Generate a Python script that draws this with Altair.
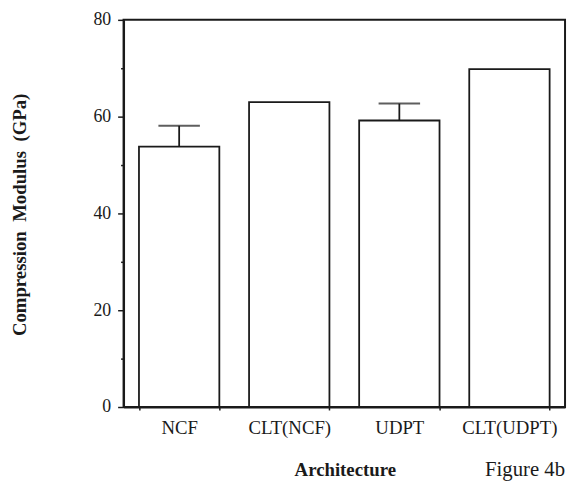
import altair as alt
import pandas as pd

categories = ["NCF", "CLT(NCF)", "UDPT", "CLT(UDPT)"]
modulus = [53.8, 63.0, 59.2, 69.8]
error_up = [4.3, 0.0, 3.5, 0.0]

df = pd.DataFrame({"arch": categories, "mod": modulus, "err": error_up})
df["top"] = df["mod"] + df["err"]
err_df = df[df["err"] > 0]

FONT = "Liberation Serif"
INK = "#1a1a1a"

x_enc = alt.X(
    "arch:N",
    sort=categories,
    scale=alt.Scale(paddingInner=0.27, paddingOuter=0.14),
    axis=alt.Axis(
        title="Architecture",
        labelAngle=0,
        labelFont=FONT,
        labelFontSize=19,
        labelColor=INK,
        labelPadding=9,
        tickBand="extent",
        tickSize=3,
        tickColor=INK,
        tickWidth=1.5,
        domainColor=INK,
        domainWidth=2,
        titleFont=FONT,
        titleFontSize=19,
        titleFontWeight="bold",
        titleColor=INK,
        titleX=224,
        titleY=63,
        titleBaseline="middle",
        titleAlign="center",
    ),
)

y_scale = alt.Scale(domain=[0, 80], nice=False)

bars = alt.Chart(df).mark_bar(
    fill="white", stroke=INK, strokeWidth=1.8
).encode(
    x=x_enc,
    y=alt.Y(
        "mod:Q",
        scale=y_scale,
        axis=alt.Axis(
            title="Compression\u00a0\u00a0Modulus\u00a0\u00a0(GPa)",
            values=[0, 10, 20, 30, 40, 50, 60, 70, 80],
            labelExpr="datum.value % 20 === 0 ? datum.label : ''",
            tickSize={"condition": {"test": "datum.value % 20 === 0", "value": 6}, "value": 3},
            tickWidth=1.5,
            tickColor=INK,
            grid=False,
            labelFont=FONT,
            labelFontSize=18,
            labelColor=INK,
            labelPadding=7,
            domainColor=INK,
            domainWidth=2,
            titleFont=FONT,
            titleFontSize=19,
            titleFontWeight="bold",
            titleColor=INK,
            titleAngle=270,
            titleX=-105,
            titleY=197,
            titleAlign="center",
            titleBaseline="middle",
        ),
    ),
)

rules = alt.Chart(err_df).mark_rule(color=INK, strokeWidth=1.8).encode(
    x=alt.X("arch:N", sort=categories),
    y=alt.Y("mod:Q", scale=y_scale),
    y2="top:Q",
)

caps = alt.Chart(err_df).mark_tick(color=INK, thickness=2, size=42).encode(
    x=alt.X("arch:N", sort=categories),
    y=alt.Y("top:Q", scale=y_scale),
)

chart = alt.layer(bars, rules, caps).properties(
    width=447,
    height=392,
    background="white",
    padding={"left": 117, "top": 9, "right": 3, "bottom": 79},
    autosize=alt.AutoSizeParams(type="none"),
    title=alt.TitleParams(
        "Figure 4b",
        orient="bottom",
        anchor="end",
        font=FONT,
        fontSize=21,
        fontWeight="normal",
        color=INK,
        offset=-20,
    ),
).configure_view(stroke=INK, strokeWidth=2)

chart.save("out.html", embed_options={"renderer": "svg", "actions": False})
